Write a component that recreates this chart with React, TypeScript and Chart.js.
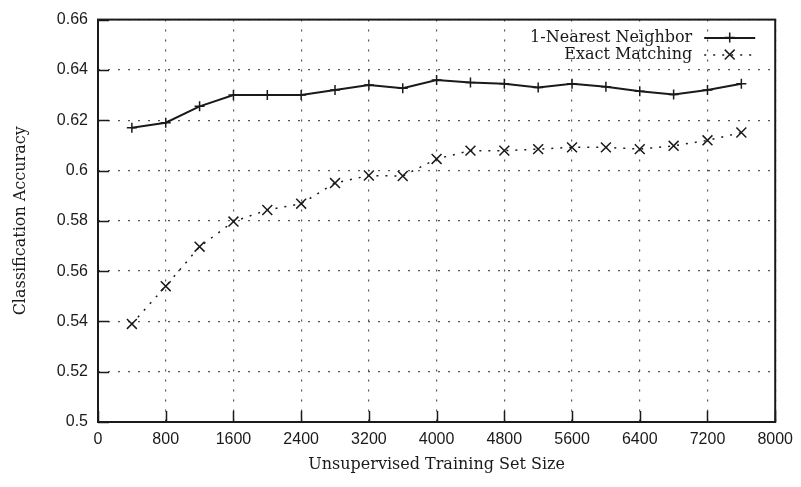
import React, { useEffect, useRef } from 'react';
import { Chart, registerables } from 'chart.js';

Chart.register(...registerables);

const trainingSizes = [400, 800, 1200, 1600, 2000, 2400, 2800, 3200, 3600, 4000, 4400, 4800, 5200, 5600, 6000, 6400, 6800, 7200, 7600];
const nearestNeighbor = [0.617, 0.619, 0.6255, 0.630, 0.630, 0.630, 0.632, 0.634, 0.6327, 0.636, 0.635, 0.6345, 0.633, 0.6345, 0.6333, 0.6315, 0.6302, 0.632, 0.6345];
const exactMatching = [0.539, 0.554, 0.5697, 0.5797, 0.5843, 0.5868, 0.595, 0.598, 0.5978, 0.6046, 0.6079, 0.6079, 0.6085, 0.6092, 0.6092, 0.6085, 0.6098, 0.612, 0.6151];
const seriesLabels = ['1-Nearest Neighbor', 'Exact Matching'];
const xTickValues = [0, 800, 1600, 2400, 3200, 4000, 4800, 5600, 6400, 7200, 8000];
const yTickValues = [0.5, 0.52, 0.54, 0.56, 0.58, 0.6, 0.62, 0.64, 0.66];
const xTitle = 'Unsupervised Training Set Size';
const yTitle = 'Classification Accuracy';

const INK = '#1a1a1a';
const TITLE_FONT = 'DejaVu Serif';
const TICK_FONT = 'Liberation Sans';

const framePlugin = {
  id: 'frame',
  afterDatasetsDraw(chart: any) {
    const { ctx, chartArea: a, scales } = chart;
    ctx.save();
    ctx.strokeStyle = INK;
    ctx.lineWidth = 1.5;
    const tl = 11;
    ctx.beginPath();
    scales.y.ticks.forEach((t: any) => {
      const y = Math.round(scales.y.getPixelForValue(t.value)) + 0.5;
      ctx.moveTo(a.left, y);
      ctx.lineTo(a.left + tl, y);
    });
    scales.x.ticks.forEach((t: any) => {
      const x = Math.round(scales.x.getPixelForValue(t.value)) + 0.5;
      ctx.moveTo(x, a.bottom);
      ctx.lineTo(x, a.bottom - tl);
    });
    ctx.stroke();
    ctx.lineWidth = 2;
    ctx.strokeRect(a.left, a.top, a.right - a.left, a.bottom - a.top);
    ctx.restore();
  },
};

const legendPlugin = {
  id: 'insideLegend',
  afterDraw(chart: any) {
    const { ctx, chartArea: a } = chart;
    const textRight = a.right - 83;
    const lineStart = a.right - 71;
    const lineEnd = a.right - 20;
    const rows = [a.top + 18, a.top + 35];
    ctx.save();
    chart.data.datasets.forEach((ds: any, i: number) => {
      const y = rows[i];
      ctx.fillStyle = INK;
      ctx.font = `16px "${TITLE_FONT}"`;
      ctx.textAlign = 'right';
      ctx.textBaseline = 'middle';
      ctx.fillText(ds.label, textRight, y);
      ctx.strokeStyle = ds.borderColor;
      ctx.lineWidth = ds.borderWidth;
      ctx.setLineDash(ds.borderDash || []);
      ctx.beginPath();
      ctx.moveTo(lineStart, y + 0.5);
      ctx.lineTo(lineEnd, y + 0.5);
      ctx.stroke();
      ctx.setLineDash([]);
      const cx = (lineStart + lineEnd) / 2;
      ctx.lineWidth = ds.pointBorderWidth;
      ctx.beginPath();
      if (ds.pointStyle === 'cross') {
        const r = ds.pointRadius;
        ctx.moveTo(cx - r, y); ctx.lineTo(cx + r, y);
        ctx.moveTo(cx, y - r); ctx.lineTo(cx, y + r);
      } else {
        const r = ds.pointRadius * Math.SQRT1_2;
        ctx.moveTo(cx - r, y - r); ctx.lineTo(cx + r, y + r);
        ctx.moveTo(cx - r, y + r); ctx.lineTo(cx + r, y - r);
      }
      ctx.stroke();
    });
    ctx.restore();
  },
};

export default function App() {
  const canvasRef = useRef<HTMLCanvasElement>(null);

  useEffect(() => {
    document.body.style.margin = '0';
    const canvas = canvasRef.current;
    if (!canvas) return;
    const chart = new Chart(canvas, {
      type: 'line',
      data: {
        datasets: [
          {
            label: seriesLabels[0],
            data: trainingSizes.map((x, i) => ({ x, y: nearestNeighbor[i] })),
            borderColor: INK,
            backgroundColor: INK,
            borderWidth: 2,
            pointStyle: 'cross',
            pointRadius: 5,
            pointBorderWidth: 1.5,
            pointBorderColor: INK,
            fill: false,
            tension: 0,
          },
          {
            label: seriesLabels[1],
            data: trainingSizes.map((x, i) => ({ x, y: exactMatching[i] })),
            borderColor: INK,
            backgroundColor: INK,
            borderWidth: 1.5,
            borderDash: [2, 7],
            pointStyle: 'crossRot',
            pointRadius: 7,
            pointBorderWidth: 1.5,
            pointBorderColor: INK,
            fill: false,
            tension: 0,
          },
        ],
      },
      options: {
        responsive: false,
        animation: false,
        layout: { padding: { top: 13, right: 23, left: 0, bottom: 0 } },
        plugins: {
          legend: { display: false },
          tooltip: { enabled: false },
        },
        scales: {
          x: {
            type: 'linear',
            min: 0,
            max: 8000,
            afterBuildTicks: (s: any) => { s.ticks = xTickValues.map((v) => ({ value: v })); },
            afterFit: (s: any) => { s.height = 65; },
            ticks: {
              color: INK,
              font: { family: TICK_FONT, size: 16 },
              padding: 8,
              maxRotation: 0,
              autoSkip: false,
              callback: (v: any) => String(v),
            },
            grid: { color: '#555', lineWidth: 1.2, drawTicks: false },
            border: { display: false, dash: [2, 8] },
            title: {
              display: true,
              text: xTitle,
              color: INK,
              font: { family: TITLE_FONT, size: 16 },
              padding: { top: 0, bottom: 13 },
            },
          },
          y: {
            type: 'linear',
            min: 0.5,
            max: 0.66,
            afterBuildTicks: (s: any) => { s.ticks = yTickValues.map((v) => ({ value: v })); },
            afterFit: (s: any) => { s.width = 98; },
            ticks: {
              color: INK,
              font: { family: TICK_FONT, size: 16 },
              padding: 10,
              autoSkip: false,
              callback: (v: any) => String(Number(Number(v).toFixed(2))),
            },
            grid: { color: '#555', lineWidth: 1.2, drawTicks: false },
            border: { display: false, dash: [2, 8] },
            title: {
              display: true,
              text: yTitle,
              color: INK,
              font: { family: TITLE_FONT, size: 16 },
              padding: { top: 11, bottom: 0 },
            },
          },
        },
      },
      plugins: [framePlugin, legendPlugin],
    });
    return () => chart.destroy();
  }, []);

  return (
    <div style={{ width: 801, height: 487 }}>
      <canvas ref={canvasRef} width={801} height={487} style={{ display: 'block' }} />
    </div>
  );
}
